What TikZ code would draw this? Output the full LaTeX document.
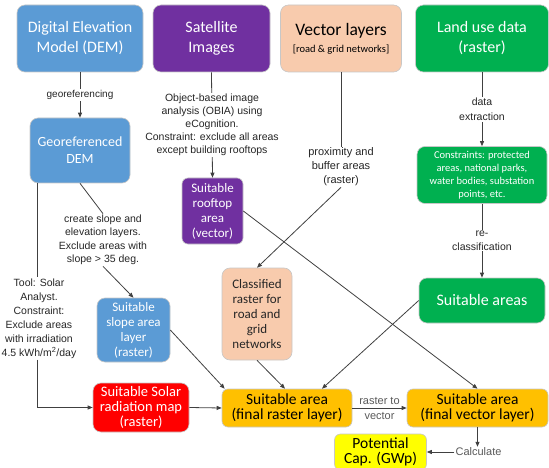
\documentclass[tikz,border=0pt]{standalone}
\usepackage{fontspec}
\setmainfont{Carlito}
\newfontfamily\arialf{Liberation Sans}
\usetikzlibrary{arrows.meta,calc}
\definecolor{cblue}{HTML}{5B9BD5}
\definecolor{cpurple}{HTML}{7030A0}
\definecolor{cpeach}{HTML}{F8CBAD}
\definecolor{cgreen}{HTML}{00B050}
\definecolor{cred}{HTML}{FF0000}
\definecolor{cgold}{HTML}{FFC000}
\definecolor{cyell}{HTML}{FFFF00}
\definecolor{cline}{HTML}{404040}
\newcommand\myfs[2]{\fontsize{#1}{#2}\selectfont}
\begin{document}
\begin{tikzpicture}[x=1pt,y=-1pt,
  box/.style={rounded corners=8pt, draw=black!22, line width=0.6pt, align=center, inner sep=1pt},
  lbl/.style={font=\arialf, align=center, inner sep=1pt, text=black!85},
  conn/.style={draw=cline, line width=0.8pt},
  arr/.style={conn, -{Triangle[length=5pt,width=4pt]}}]
\useasboundingbox (0,0) rectangle (549,468);
% top row
\node[box, fill=cblue, text=white, minimum width=126, minimum height=67, font=\myfs{16}{20}] (dem) at (80,38.5) {Digital Elevation\\Model (DEM)};
\node[box, fill=cpurple, text=white, minimum width=117, minimum height=67, font=\myfs{16}{20}] (sat) at (211.5,38.5) {Satellite\\Images};
\node[box, fill=cpeach, text=black, minimum width=121, minimum height=67, font=\myfs{17.5}{17}] (vec) at (341,38.5) {Vector layers\\{\myfs{10.5}{12}[road \& grid networks]}};
\node[box, fill=cgreen, text=white, minimum width=133, minimum height=67, font=\myfs{16}{20}] (land) at (482,38.5) {Land use data\\(raster)};
% second level
\node[box, fill=cblue, text=white, minimum width=100, minimum height=65, font=\myfs{14}{17}] (geo) at (80,150.5) {Georeferenced\\DEM};
\node[box, fill=cpurple, text=white, minimum width=61, minimum height=66, rounded corners=6pt, font=\myfs{13}{15}] (roof) at (212.5,211) {Suitable\\rooftop\\area\\(vector)};
\node[box, fill=cgreen, text=white, minimum width=130, minimum height=57, font=\myfs{10.5}{13}] (cons) at (482,175) {Constraints: protected\\areas, national parks,\\water bodies, substation\\points, etc.};
\node[box, fill=cgreen, text=white, minimum width=126, minimum height=45, font=\myfs{16}{20}] (suit) at (482,300.5) {Suitable areas};
\node[box, fill=cpeach, text=black!85, minimum width=70, minimum height=92, font=\myfs{13}{15}] (cls) at (257,314) {Classified\\raster for\\road and\\grid\\networks};
\node[box, fill=cblue, text=white, minimum width=73, minimum height=64, font=\myfs{13}{15}] (slope) at (133.5,330) {Suitable\\slope area\\layer\\(raster)};
% bottom
\node[box, fill=cred, text=white, minimum width=96, minimum height=49, font=\myfs{14.5}{15}] (solar) at (141,407.5) {Suitable Solar\\radiation map\\(raster)};
\node[box, fill=cgold, text=black, minimum width=130, minimum height=38, rounded corners=6pt, font=\myfs{15.5}{15}] (fras) at (287,408) {Suitable area\\(final raster layer)};
\node[box, fill=cgold, text=black, minimum width=141, minimum height=38, rounded corners=6pt, font=\myfs{15.5}{15}] (fvec) at (477.5,408) {Suitable area\\(final vector layer)};
\node[box, fill=cyell, text=black, minimum width=92, minimum height=36, rounded corners=6pt, font=\myfs{15.5}{15}] (pot) at (380.5,452) {Potential\\Cap. (GWp)};
% free labels
\node[lbl, font=\arialf\myfs{11}{14}] (lprox) at (341,167) {proximity and\\buffer areas\\(raster)};
\node[lbl, font=\arialf\myfs{10.5}{13.5}] (lslope) at (103,240) {create slope and\\elevation layers.\\Exclude areas with\\slope > 35 deg.};
\node[lbl, font=\arialf\myfs{10.5}{14}] (ltool) at (39,318.5) {Tool: Solar\\Analyst.\\Constraint:\\Exclude areas\\with irradiation\\4.5 kWh/m\textsuperscript{2}/day};
\node[lbl, text=black!65, font=\arialf\myfs{11}{13}] (calc) at (478.5,452) {Calculate};
\coordinate (gl) at ([xshift=8pt]geo.south west);
% connectors
\draw[arr] (dem.south) -- node[lbl, fill=white, font=\arialf\myfs{10}{12}] (lgeo) {georeferencing} (geo.north);
\draw[arr] (sat.south) -- node[lbl, fill=white, font=\arialf\myfs{10.5}{13}] (lobia) {Object-based image\\analysis (OBIA) using\\eCognition.\\Constraint: exclude all areas\\except building rooftops} (roof.north);
\draw[arr] (land.south) -- node[lbl, fill=white, font=\arialf\myfs{10.5}{15}] (ldata) {data\\extraction} (cons.north);
\draw[arr] (cons.south) -- node[lbl, fill=white, font=\arialf\myfs{10.5}{13.5}] (lrecl) {re-\\classification} (suit.north);
\draw[conn] (vec.south) -- (lprox.north);
\draw[arr] (lprox.south) -- (cls.north);
\draw[conn] (geo.south) -- (lslope.north);
\draw[arr] (lslope.south) -- (slope.north);
\draw[conn] (gl) -- (ltool.north -| gl);
\draw[arr] (ltool.south -| gl) |- (solar.west);
\draw[arr] (solar.east) -- (fras.west);
\draw[arr] (slope.east) -- ([xshift=3pt]fras.north west);
\draw[arr] (cls.south) -- ([xshift=-2pt]fras.north);
\draw[arr] (suit.west) -- ([xshift=35pt]fras.north);
\draw[arr] (roof.east) -- (fvec.north);
\draw[arr] (fras.east) -- node[lbl, text=black!65, font=\arialf\myfs{11}{15}] (lrv) {raster to\\vector} (fvec.west);
\draw[arr] (fvec.south) -- (calc.north -| fvec.south);
\draw[arr] (calc.west) -- (pot.east);
\end{tikzpicture}
\end{document}
